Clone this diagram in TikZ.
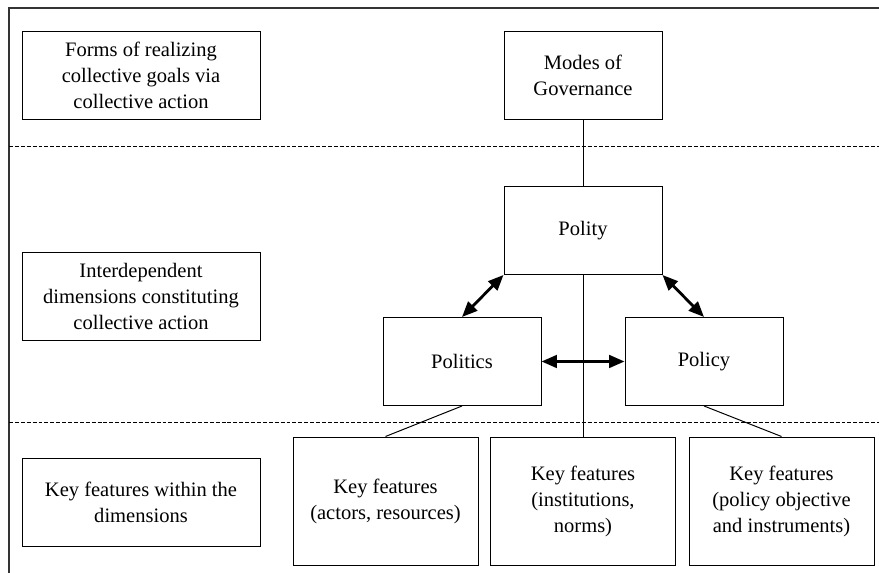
\documentclass[tikz,border=0pt]{standalone}
\usepackage{fontspec}
\setmainfont{Liberation Serif}
\usetikzlibrary{arrows.meta}

\begin{document}
\begin{tikzpicture}[
    lvl/.style={draw, line width=0.7pt, minimum width=5.95cm, minimum height=2.2cm, align=center, inner sep=0pt, font=\fontsize{14.6}{18.5}\selectfont},
    dim/.style={draw, line width=0.7pt, minimum width=3.95cm, minimum height=2.2cm, align=center, inner sep=0pt, font=\fontsize{14.6}{18.5}\selectfont},
    feat/.style={draw, line width=0.7pt, minimum width=4.625cm, minimum height=3.2cm, align=center, inner sep=0pt, font=\fontsize{14.6}{18.5}\selectfont},
    arr/.style={{Triangle[length=11pt,width=9pt]}-{Triangle[length=11pt,width=9pt]}, line width=2pt},
    ln/.style={line width=0.7pt},
    sep/.style={line width=0.7pt, dash pattern=on 2.8pt off 1.4pt}
]
\useasboundingbox (0,0) rectangle (21.975,14.325);

% frame and level separators
\coordinate (FL) at (0.225,0);
\coordinate (FT) at (0.225,14.125);
\coordinate (FR) at (21.975,14.125);
\draw[line width=0.8pt, black!80] (FL) -- (FT) -- (FR);
\coordinate (S1L) at (0.225,10.65);
\coordinate (S1R) at (21.975,10.65);
\coordinate (S2L) at (0.225,3.775);
\coordinate (S2R) at (21.975,3.775);
\draw[sep] (S1L) -- (S1R);
\draw[sep] (S2L) -- (S2R);

% left column
\node[lvl] (F) at (3.525,12.4375) {Forms of realizing\\collective goals via\\collective action};
\node[lvl] (D) at (3.525,6.925) {Interdependent\\dimensions constituting\\collective action};
\node[lvl] (K) at (3.525,1.7625) {Key features within the\\dimensions};

% dimensions
\node[dim] (M) at (14.575,12.4375) {Modes of\\Governance};
\node[dim] (PY) at (14.575,8.5625) {Polity};
\node[dim] (PS) at (11.55,5.2875) {Politics};
\node[dim] (PC) at (17.6,5.2875) {Policy};

% key features
\node[feat] (K1) at (9.6375,1.8) {Key features\\(actors, resources)};
\node[feat] (K2) at (14.575,1.8) {Key features\\(institutions,\\norms)};
\node[feat] (K3) at (19.5375,1.8) {Key features\\(policy objective\\and instruments)};

\draw[ln] (M) -- (PY);
\draw[ln] (PY.south) -- (K2.north);
\draw[ln] (PS.south) -- (K1.north);
\draw[ln] (PC.south) -- (K3.north);
\draw[arr] (PY.south west) -- (PS.north);
\draw[arr] (PY.south east) -- (PC.north);
\draw[arr] (PS.east) -- (PC.west);
\end{tikzpicture}
\end{document}
